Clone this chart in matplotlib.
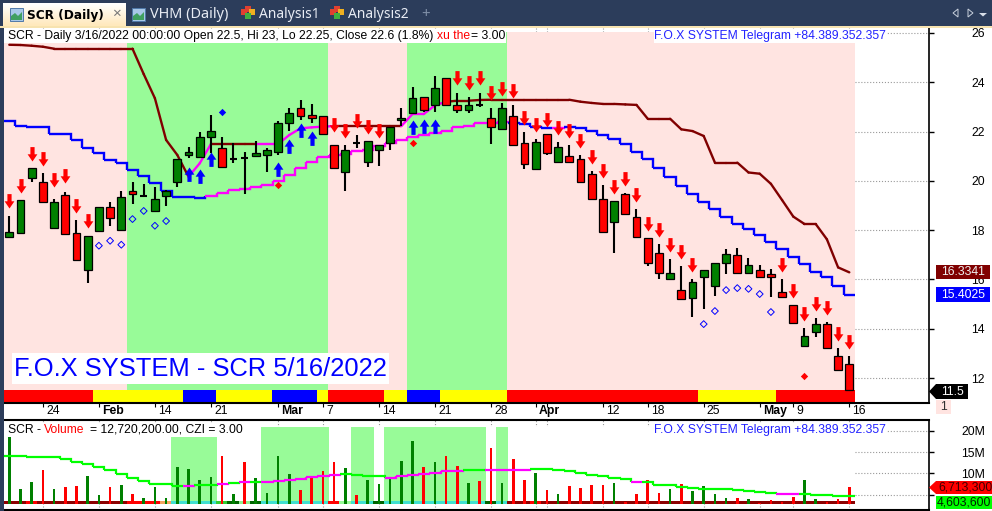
import numpy as np
import matplotlib
matplotlib.use("Agg")
from matplotlib import pyplot as plt
from matplotlib.path import Path
from matplotlib.patches import Rectangle, Polygon
from matplotlib.colors import LinearSegmentedColormap

plt.rcParams['font.family'] = ['Liberation Sans', 'DejaVu Sans']

# daily candles, 76 sessions
opens = [17.74,17.88,20.11,19.95,18.09,19.42,17.88,16.38,17.96,18.94,18.00,19.59,19.38,18.78,19.38,19.95,21.05,20.97,21.78,21.33,
         20.88,20.93,21.01,21.05,21.17,22.35,22.95,22.67,22.63,21.45,20.36,21.53,20.76,21.25,21.53,22.47,22.75,23.40,23.08,24.17,
         23.08,22.87,23.08,22.55,22.10,22.63,21.53,20.48,21.90,20.76,21.01,20.88,20.28,19.26,18.33,19.46,18.53,17.68,17.07,16.02,
         15.57,15.25,16.10,15.73,16.67,16.99,16.26,16.38,16.22,15.49,14.96,13.30,13.87,14.19,12.89,12.57]
highs = [18.57,19.22,20.52,20.32,19.26,19.55,18.41,17.76,18.94,19.14,19.59,19.95,19.87,19.75,19.63,20.88,21.37,21.98,22.67,21.78,
         21.53,21.17,21.62,21.33,22.43,22.95,23.28,23.12,22.63,21.45,21.45,21.86,21.62,21.45,22.18,22.95,23.81,23.40,24.25,24.17,
         23.56,23.40,23.56,22.95,23.16,23.08,21.98,21.70,21.90,21.57,21.45,21.05,20.40,19.83,19.18,19.51,18.86,17.68,17.44,16.83,
         16.54,16.02,16.38,16.67,17.23,17.27,16.87,16.58,16.42,16.02,14.96,14.03,14.43,14.27,13.22,12.89]
lows = [17.74,17.88,19.96,19.14,18.09,17.84,16.79,15.85,17.96,18.17,18.00,19.06,19.38,18.78,18.98,19.75,20.93,20.97,21.13,20.52,
        20.72,19.46,20.97,20.36,21.05,22.02,22.47,22.35,21.90,20.52,19.59,21.33,20.56,20.60,21.25,22.22,22.75,22.79,22.79,23.08,
        22.75,22.75,23.00,21.49,22.10,21.45,20.48,20.48,21.05,20.76,20.72,19.95,19.26,17.92,17.07,18.65,17.72,16.54,16.02,16.02,
        15.16,14.47,14.80,15.33,16.22,16.26,16.26,16.06,15.29,15.29,14.23,13.30,13.66,13.22,12.32,11.50]
closes = [17.94,19.22,20.52,19.14,19.14,17.84,16.79,17.76,18.94,18.51,19.34,19.46,19.38,19.26,19.59,20.88,21.17,21.78,22.02,20.56,
          20.88,20.93,21.13,21.25,22.35,22.75,22.63,22.55,21.90,20.52,21.25,21.53,21.62,21.45,22.18,22.55,23.36,22.87,23.77,23.08,
          22.87,23.08,23.08,22.18,22.95,21.45,20.68,21.57,21.13,21.37,20.76,19.95,19.26,17.92,19.18,18.65,17.72,16.67,16.26,16.26,
          15.21,15.89,16.38,16.67,17.03,16.26,16.58,16.10,16.10,15.29,14.23,13.70,14.19,13.22,12.32,11.50]

# stepped blue/magenta line
lower_line = [22.44,22.24,22.20,22.20,21.89,21.89,21.66,21.32,21.14,20.84,20.71,20.44,20.21,19.92,19.59,19.36,19.34,19.30,19.40,19.49,
              19.63,19.69,19.76,19.83,19.99,20.24,20.51,20.78,20.95,21.05,21.09,21.21,21.25,21.41,21.52,21.66,21.79,21.86,21.93,22.02,
              22.17,22.22,22.36,22.36,22.40,22.33,22.30,22.20,22.16,22.16,22.20,22.13,22.02,21.84,21.68,21.48,21.18,20.90,20.51,20.17,
              19.80,19.45,19.13,18.84,18.52,18.27,18.06,17.79,17.53,17.22,16.90,16.61,16.31,16.11,15.73,15.37]
lower_magenta = list(range(18, 45)) + [49]

# maroon/magenta line
upper_line = [25.52,25.51,25.48,25.44,25.36,25.36,25.36,25.36,25.36,25.36,25.36,25.36,24.33,23.35,21.66,21.05,20.17,20.71,21.49,21.49,
              21.49,21.49,21.49,21.49,21.49,21.86,22.13,22.17,22.20,22.22,22.22,22.22,22.22,22.22,22.22,22.22,22.71,22.71,23.06,23.21,
              23.25,23.25,23.28,23.29,23.29,23.29,23.29,23.29,23.29,23.29,23.29,23.21,23.16,23.12,23.12,23.10,23.08,22.52,22.52,22.52,
              22.09,22.02,21.82,20.74,20.74,20.74,20.34,20.29,19.88,19.22,18.55,18.25,18.25,17.63,16.49,16.29]
upper_magenta = [16, 17, 22, 23, 24, 25, 26, 27, 28, 35, 36, 37, 38]

sell_idx = [0,1,2,3,4,5,6,7,29,30,31,32,33,40,41,42,43,44,45,46,47,48,49,50,51,52,53,54,55,56,57,58,59,60,61,69,70,71,72,73,74,75]
sell_val = [18.90,19.51,20.80,20.60,19.75,19.91,18.69,18.09,21.98,21.74,22.14,21.90,21.74,23.89,23.68,23.89,23.28,23.44,23.36,22.26,
            21.98,22.18,21.86,21.74,21.33,20.68,20.11,19.46,19.79,19.14,17.96,17.72,17.11,16.83,16.30,16.30,15.25,14.31,14.72,14.56,13.50,13.18]
buy_idx = [16,17,18,24,25,26,27,36,37,38]
buy_val = [20.56,20.48,21.17,20.76,21.70,22.35,22.02,22.47,22.51,22.51]
hollow_idx = [8,9,10,11,12,13,14,62,63,64,65,66,67,68]
hollow_val = [17.37,17.57,17.41,18.45,18.78,18.18,18.37,14.19,14.72,15.57,15.65,15.62,15.41,14.68]
blue_dot_idx = [19]
blue_dot_val = [22.80]
red_dot_idx = [24,36,71]
red_dot_val = [19.83,21.53,12.08]

# (colour, sessions)
bg_runs = [('#FFE4E1',11),('#98FB98',18),('#FFE4E1',7),('#98FB98',9),('#FFE4E1',31)]
ribbon_runs = [('#FF0000',8),('#FFFF00',8),('#0000FF',3),('#FFFF00',5),('#0000FF',4),('#FFFF00',1),('#FF0000',5),('#FFFF00',2),
               ('#0000FF',3),('#FFFF00',6),('#FF0000',17),('#FFFF00',7),('#FF0000',7)]

# volume in millions, red sessions listed apart
volumes = [18.43,6.33,7.97,10.78,6.33,6.80,7.04,9.38,4.93,6.80,7.27,5.16,4.23,6.80,4.23,11.49,11.02,8.44,9.15,14.06,
           5.16,12.66,8.91,5.40,14.06,9.85,6.10,9.22,10.55,12.66,11.25,4.93,8.44,7.51,9.15,12.89,17.50,11.49,12.66,14.06,
           11.72,7.74,8.21,15.94,7.74,13.36,8.44,10.08,6.10,5.16,7.04,6.57,7.27,7.27,7.74,3.29,5.16,8.44,5.40,6.33,
           7.51,5.87,7.04,5.16,4.23,4.23,3.99,3.00,3.76,3.29,4.46,8.44,3.99,3.35,3.99,6.80]
vol_red = [3,5,6,9,11,19,21,26,27,28,29,31,37,39,40,42,43,45,46,48,50,51,52,53,55,56,57,58,60,65,67,68,69,70,73,74,75]
vol_ma = [14.06,14.06,13.91,13.91,13.75,13.36,12.74,12.27,11.57,10.78,9.85,8.83,8.21,7.58,7.51,7.04,7.04,7.27,7.35,7.58,
          7.82,7.97,8.05,8.05,8.29,8.52,8.75,9.07,9.30,9.61,9.93,9.54,9.38,9.38,8.99,9.30,9.54,9.77,10.08,10.63,
          10.63,10.78,10.78,10.78,10.78,10.86,10.86,11.10,11.10,10.78,10.63,10.16,9.61,9.30,8.99,8.60,8.05,8.05,7.35,7.35,
          6.88,6.57,6.41,6.41,6.26,6.10,5.79,5.63,5.40,5.16,5.16,5.16,5.00,4.93,4.77,4.70]
vol_ma_magenta = [16,19,21,23,24,25,26,27,28,29,34,35,36,37,38,39,40,43,44,45,46,56,69,70]
vol_bands = [15,16,17,18,23,24,25,26,27,28,31,32,34,35,36,37,38,39,40,41,42,44]
strip_runs = [('#8B0000',2),('#FF0000',1),('#8B0000',8),('#FF0000',3),('#F4A460',1),('#40E0D0',4),('#32CD32',1),('#006400',1),
              ('#90EE90',1),('#006400',1),('#40E0D0',6),('#FF0000',1),('#98FB98',1),('#40E0D0',2),('#006400',1),('#40E0D0',9),
              ('#006400',1),('#40E0D0',1),('#8B0000',2),('#FF0000',1),('#8B0000',28)]

date_ticks = [3,8,13,18,24,28,33,38,43,47,48,53,57,62,67,70,75]
date_labels = ['24','Feb','14','21','Mar','7','14','21','28','Apr','','12','18','25','May','9','16']
month_labels = ['Feb','Mar','Apr','May']

price_ticks = [12,14,16,18,20,22,24,26]
vol_ticks = [5,10,15,20]
vol_tick_labels = ['','10M','15M','20M']

W, H = 992, 511
BAR0, BARW = 9.3, 11.2
X_L, X_R = 4, 928.7
xlim = ((X_L - BAR0) / BARW, (X_R - BAR0) / BARW)


def expand(runs):
    out = []
    for c, n in runs:
        out += [c] * n
    return out


def box(l, t, r, b):
    return [l / W, 1 - b / H, (r - l) / W, (b - t) / H]


def step_line(ax, vals, magenta, base, lw):
    for i, v in enumerate(vals):
        c = '#FF00FF' if i in magenta else base
        xs = [i - .5, i + .5]
        ys = [v, v]
        if i + 1 < len(vals):
            xs.append(i + .5)
            ys.append(vals[i + 1])
        ax.plot(xs, ys, color=c, lw=lw, zorder=3, solid_capstyle='butt', solid_joinstyle='miter')


n = len(closes)
idx = np.arange(n)
fig = plt.figure(figsize=(W / 100, H / 100), dpi=100, facecolor='white')

# ---- price panel
ax = fig.add_axes(box(X_L, 28, X_R, 403))
ax.set_xlim(*xlim)
ax.set_ylim(10.99, 26.2)
ax.set_axisbelow(True)
ax.grid(True, ls=':', color='#999999', lw=0.8)
ax.bar(idx, 26.02 - 10.99, bottom=10.99, width=1.04, color=expand(bg_runs), linewidth=0, antialiased=False, zorder=1)
ax.bar(idx, 0.48, bottom=11.03, width=1.04, color=expand(ribbon_runs), linewidth=0, antialiased=False, zorder=2)

step_line(ax, lower_line, lower_magenta, '#0000FF', 1.7)
for i in range(n - 1):
    c = '#FF00FF' if i in upper_magenta else '#800000'
    ax.plot([i, i + 1], [upper_line[i], upper_line[i + 1]], color=c, lw=1.7, zorder=3, solid_capstyle='round')

ax.vlines(idx, lows, highs, color='black', lw=1.5, zorder=4)
for i in range(n):
    o, c = opens[i], closes[i]
    if o == c:
        ax.hlines(o, i - .33, i + .33, color='black', lw=1.5, zorder=5)
    else:
        ax.bar(i, abs(c - o), bottom=min(o, c), width=0.68, color='#008000' if c > o else '#FF0000',
               edgecolor='black', linewidth=0.9, zorder=5)

# arrows with tip at the data point
down = Path([(0,0),(-.68,1),(-.29,1),(-.29,2),(.29,2),(.29,1),(.68,1),(0,0)], closed=True)
up = Path([(0,0),(-.68,-1),(-.29,-1),(-.29,-2),(.29,-2),(.29,-1),(.68,-1),(0,0)], closed=True)
ax.scatter(sell_idx, sell_val, marker=down, s=430, color='#FF0000', linewidths=0, zorder=6)
ax.scatter(buy_idx, buy_val, marker=up, s=430, color='#0000FF', linewidths=0, zorder=6)
ax.scatter(hollow_idx, hollow_val, marker='D', s=12, facecolors='none', edgecolors='#0000FF', linewidths=0.7, zorder=6)
ax.scatter(blue_dot_idx, blue_dot_val, marker='D', s=14, color='#0000FF', linewidths=0, zorder=6)
ax.scatter(red_dot_idx, red_dot_val, marker='D', s=14, color='#FF0000', linewidths=0, zorder=6)

for s in ['left', 'top']:
    ax.spines[s].set_visible(False)
ax.spines['bottom'].set_linewidth(1.5)
ax.spines['right'].set_linewidth(1.2)
ax.yaxis.tick_right()
ax.set_yticks(price_ticks)
ax.set_yticklabels([str(t) for t in price_ticks], fontsize=8.8, ha='right')
ax.tick_params(axis='y', length=3.5, width=1, pad=37, color='black')
ax.set_xticks(date_ticks)
ax.set_xticklabels([])
ax.tick_params(axis='x', length=3, width=0.8)
for pos, lab in zip(date_ticks, date_labels):
    bold = lab in month_labels
    ax.annotate(lab, xy=(pos, 0), xycoords=('data', 'axes fraction'), xytext=(2.2, -6), textcoords='offset points',
                ha='left', va='center', fontsize=8.8, fontweight='bold' if bold else 'normal')

# ---- volume panel
ax2 = fig.add_axes(box(X_L, 420, X_R, 510))
ax2.set_xlim(*xlim)
ax2.set_ylim(1.42, 22.5)
ax2.set_axisbelow(True)
ax2.grid(True, ls=':', color='#999999', lw=0.8)
FLOOR, BAND_TOP = 2.75, 20.85
ax2.bar(idx, BAND_TOP - FLOOR, bottom=FLOOR, width=1.04, color='white', linewidth=0, antialiased=False, zorder=1)
ax2.bar(vol_bands, BAND_TOP - FLOOR, bottom=FLOOR, width=1.04, color='#98FB98', linewidth=0, antialiased=False, zorder=1.5)
ax2.bar(idx, 0.78, bottom=FLOOR, width=1.04, color=expand(strip_runs), linewidth=0, antialiased=False, zorder=2)
vol_cols = ['#FF0000' if i in vol_red else '#008000' for i in idx]
ax2.bar(idx, np.array(volumes) - FLOOR, bottom=FLOOR, width=0.22, color=vol_cols, linewidth=0, zorder=3)
step_line(ax2, vol_ma, vol_ma_magenta, '#00FF00', 1.6)
ax2.spines['left'].set_visible(False)
for s in ['top', 'bottom']:
    ax2.spines[s].set_linewidth(1.5)
ax2.spines['right'].set_linewidth(1.2)
ax2.yaxis.tick_right()
ax2.set_yticks(vol_ticks)
ax2.set_yticklabels(vol_tick_labels, fontsize=8.8, ha='right')
ax2.tick_params(axis='y', length=3.5, width=1, pad=37)
ax2.set_xticks(date_ticks)
ax2.set_xticklabels([])
ax2.tick_params(axis='x', length=0)

# ---- window chrome, labels, tags in pixel coords
ov = fig.add_axes([0, 0, 1, 1], zorder=10)
ov.patch.set_alpha(0)
ov.axis('off')
NAVY = '#2C3D5B'
ov.add_patch(Rectangle((0, 0), W, 26, fc=NAVY, ec='none'))
ov.add_patch(Rectangle((0, 0), 4, H, fc=NAVY, ec='none'))
ov.add_patch(Rectangle((0, 26), W, 2, fc='#F7E3B0', ec='none'))
tab_cm = LinearSegmentedColormap.from_list('tab', ['#FFFFFF', '#FFE9BC'])
ov.imshow(np.linspace(0, 1, 24)[:, None], cmap=tab_cm, extent=(3, 126, 26, 3), aspect='auto', zorder=1)
ov.set_xlim(0, W)
ov.set_ylim(H, 0)


def icon_chart(x):
    ov.add_patch(Rectangle((x, 8), 13, 13, fc='#A8C8E8', ec='#5078A8', lw=0.7, zorder=2))
    ov.add_patch(Polygon([(x + 1, 20), (x + 1, 16), (x + 5, 13), (x + 8, 16), (x + 12, 12), (x + 12, 20)], fc='#40A060', ec='none', zorder=3))


def icon_heart(x):
    ov.scatter([x + 7, x + 3, x + 11, x + 7], [9, 12, 12, 16], s=[16, 16, 16, 16], marker='s',
               color=['#E04030', '#E04030', '#F0B020', '#40B040'], linewidths=0, zorder=3)


icon_chart(10)
icon_chart(132)
icon_heart(241)
icon_heart(330)
tabfont = ['Noto Sans', 'DejaVu Sans']
ov.text(27, 15, 'SCR (Daily)', fontsize=8.7, fontweight='bold', family='DejaVu Sans', va='center', color='black', zorder=3)
ov.text(116, 14, '×', fontsize=11, family=tabfont, va='center', ha='center', color='#777777', zorder=3)
ov.text(150, 15, 'VHM (Daily)', fontsize=10.4, family=tabfont, va='center', color='#E8ECF4')
ov.text(259, 15, 'Analysis1', fontsize=10, family=tabfont, va='center', color='#E8ECF4')
ov.text(348, 15, 'Analysis2', fontsize=10, family=tabfont, va='center', color='#E8ECF4')
ov.text(426, 14, '+', fontsize=11, family=tabfont, va='center', ha='center', color='#8090A8')
ov.add_patch(Polygon([(958, 9), (953, 13), (958, 17)], closed=True, fc='none', ec='#C8D0DC', lw=0.7))
ov.add_patch(Polygon([(968, 9), (973, 13), (968, 17)], closed=True, fc='none', ec='#C8D0DC', lw=0.7))
ov.add_patch(Polygon([(979, 13), (987, 13), (983, 16.5)], closed=True, fc='#D8DEE8', ec='none'))

# legends
ov.add_patch(Rectangle((4, 29), 502, 14.5, fc='white', ec='none'))
ov.text(8, 36, 'SCR - Daily 3/16/2022 00:00:00 Open 22.5, Hi 23, Lo 22.25, Close 22.6 (1.8%)', fontsize=8.75, va='center')
ov.text(437, 36, 'xu the', fontsize=8.75, va='center', color='#FF0000')
ov.text(471, 36, '= 3.00', fontsize=8.75, va='center')
ov.add_patch(Rectangle((654, 29), 232, 14.5, fc='white', ec='none'))
ov.text(654.5, 36, 'F.O.X SYSTEM Telegram +84.389.352.357', fontsize=8.72, va='center', color='#2222FF')
ov.add_patch(Rectangle((12, 353), 377, 31, fc='white', ec='none'))
ov.text(14, 369, 'F.O.X SYSTEM - SCR 5/16/2022', fontsize=18.4, va='center', color='#0000FF')

ov.add_patch(Rectangle((4, 423), 236, 14, fc='white', ec='none'))
ov.text(8, 430, 'SCR -', fontsize=8.75, va='center')
ov.text(44, 430, 'Volume', fontsize=8.75, va='center', color='#FF0000')
ov.text(90, 430, '= 12,720,200.00, CZI = 3.00', fontsize=8.75, va='center')
ov.add_patch(Rectangle((654, 423), 232, 14.5, fc='white', ec='none'))
ov.text(654.5, 430, 'F.O.X SYSTEM Telegram +84.389.352.357', fontsize=8.72, va='center', color='#2222FF')

# value tags
ov.add_patch(Rectangle((936, 265), 54, 14, fc='#800000', ec='none'))
ov.text(941, 272.3, '16.3341', fontsize=8.8, va='center', color='#F0F0F0')
ov.add_patch(Rectangle((936, 287.5), 54, 15, fc='#0000FF', ec='none'))
ov.text(941, 295.3, '15.4025', fontsize=8.8, va='center', color='white')
ov.add_patch(Polygon([(929, 391.5), (936, 384), (968, 384), (968, 399), (936, 399)], closed=True, fc='black', ec='none'))
ov.text(941, 391.8, '11.5', fontsize=8.8, va='center', color='white')
ov.add_patch(Rectangle((936, 400), 15, 14, fc='#FFE4E1', ec='none'))
ov.text(943.5, 407, '1', fontsize=8.8, va='center', ha='center', color='#303030')
ov.add_patch(Polygon([(929, 487.5), (936, 481), (992, 481), (992, 494), (936, 494)], closed=True, fc='#FF0000', ec='none'))
ov.text(938, 487.8, '6,713,300', fontsize=8.8, va='center', color='#400000')
ov.add_patch(Rectangle((936, 496), 56, 13, fc='#00FF00', ec='none'))
ov.text(937, 502.8, '4,603,600', fontsize=8.8, va='center', color='#002000')

fig.savefig('out.png', dpi=100)
